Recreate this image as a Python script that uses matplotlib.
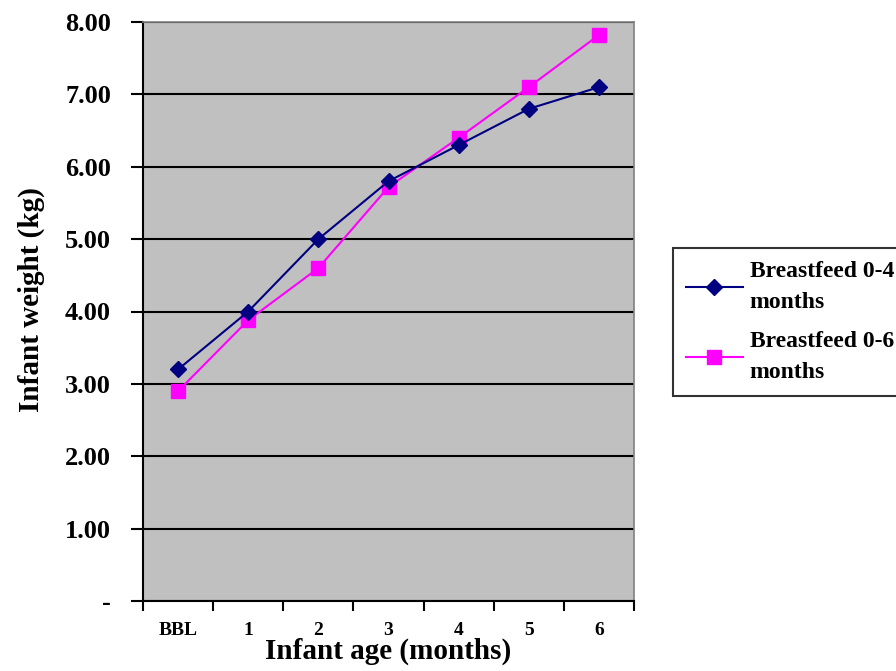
#Grafica peso del infante segun lactancia

import numpy as np
import matplotlib.pyplot as plt
from matplotlib.ticker import FixedLocator

#Datos
edades = ["BBL", "1", "2", "3", "4", "5", "6"]
pesoLactancia04 = [3.2, 4.0, 5.0, 5.8, 6.3, 6.8, 7.1]
pesoLactancia06 = [2.9, 3.88, 4.6, 5.72, 6.4, 7.1, 7.82]
etiquetasY = ["-", "1.00", "2.00", "3.00", "4.00", "5.00", "6.00", "7.00", "8.00"]

plt.rcParams["font.family"] = ["Liberation Serif", "DejaVu Serif"]
plt.rcParams["font.weight"] = "bold"

fig = plt.figure(figsize=(8.96, 6.71), dpi=100)
ax = fig.add_axes([143/896, 70/671, (634-143)/896, (601-22)/671])
ax.set_facecolor("#C0C0C0")

x = np.arange(len(edades))
ax.plot(x, pesoLactancia04, color="#000080", marker="D", markersize=8, linewidth=1.5,
        label="Breastfeed 0-4\nmonths", zorder=4)
ax.plot(x, pesoLactancia06, color="#FF00FF", marker="s", markersize=10, linewidth=1.5,
        label="Breastfeed 0-6\nmonths", zorder=3)

ax.set_xlim(-0.5, len(edades)-0.5)
ax.set_ylim(0, 8)

#Ejes y rejilla
ax.set_yticks(range(len(etiquetasY)))
ax.set_yticklabels(etiquetasY, fontsize=19, fontweight="bold")
ax.yaxis.grid(True, color="black", linewidth=1.5)
ax.set_axisbelow(True)
ax.tick_params(axis="y", direction="out", length=9, width=1.5, pad=14)

ax.xaxis.set_major_locator(FixedLocator(np.arange(-0.5, len(edades), 1.0)))
ax.xaxis.set_minor_locator(FixedLocator(x))
ax.set_xticklabels([], minor=False)
ax.set_xticklabels(edades, minor=True, fontsize=14, fontweight="bold")
ax.tick_params(axis="x", which="major", direction="out", length=7, width=1.5)
ax.tick_params(axis="x", which="minor", length=0, pad=15)

for lado in ["left", "bottom"]:
    ax.spines[lado].set_color("black")
    ax.spines[lado].set_linewidth(1.5)
for lado in ["top", "right"]:
    ax.spines[lado].set_color("#808080")
    ax.spines[lado].set_linewidth(1.2)

ax.set_xlabel("Infant age (months)", fontsize=21, fontweight="bold")
ax.xaxis.set_label_coords(0.5, -0.064)
ax.set_ylabel("Infant weight (kg)", fontsize=21, fontweight="bold")
ax.yaxis.set_label_coords(-0.2, 0.52)

leg = fig.legend(loc="upper left", bbox_to_anchor=(673/896, 1-248/671), fontsize=17,
                 frameon=True, fancybox=False, borderaxespad=0, handlelength=2.4,
                 labelspacing=0.8, borderpad=0.55, handletextpad=0.3)
leg.get_frame().set_edgecolor("black")
leg.get_frame().set_linewidth(1.5)
for t in leg.get_texts():
    t.set_fontweight("bold")
    t.set_linespacing(1.6)

plt.savefig("out.png", dpi=100)
